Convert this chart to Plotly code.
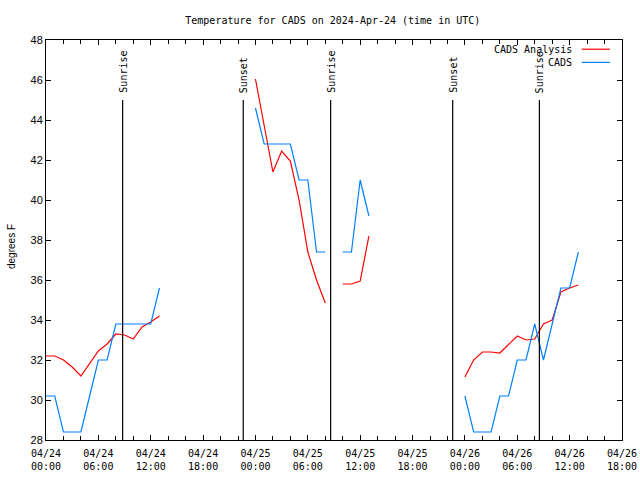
import pandas as pd
import plotly.graph_objects as go

# ---- data ----
base_day = "2024-04-24"
hours = [0, 1, 2, 3, 4, 5, 6, 7, 8, 9, 10, 11, 12, 13, None,
         24, 25, 26, 27, 28, 29, 30, 31, 32, None,
         34, 35, 36, 37, None,
         48, 49, 50, 51, 52, 53, 54, 55, 56, 57, 58, 59, 60, 61]
cads_analysis = [32.2, 32.2, 32.0, 31.65, 31.2, 31.85, 32.45, 32.8, 33.3, 33.25, 33.05, 33.65, 33.9, 34.2, None,
                 46.05, 43.8, 41.4, 42.45, 41.95, 40.0, 37.4, 36.0, 34.85, None,
                 35.8, 35.8, 35.95, 38.2, None,
                 31.15, 32.0, 32.4, 32.4, 32.35, 32.75, 33.2, 33.0, 33.05, 33.8, 34.0, 35.4, 35.6, 35.75]
cads_obs = [30.2, 30.2, 28.4, 28.4, 28.4, 30.2, 32.0, 32.0, 33.8, 33.8, 33.8, 33.8, 33.8, 35.6, None,
            44.6, 42.8, 42.8, 42.8, 42.8, 41.0, 41.0, 37.4, 37.4, None,
            37.4, 37.4, 41.0, 39.2, None,
            30.2, 28.4, 28.4, 28.4, 30.2, 30.2, 32.0, 32.0, 33.8, 32.0, 33.8, 35.6, 35.6, 37.4]
sun_labels = ["Sunrise", "Sunset", "Sunrise", "Sunset", "Sunrise"]
sun_times = ["2024-04-24 08:47", "2024-04-24 22:36", "2024-04-25 08:37",
             "2024-04-25 22:36", "2024-04-26 08:32"]
sun_line_top = 45
tick_hours = [0, 6, 12, 18, 24, 30, 36, 42, 48, 54, 60, 66]
y_range = [28, 48]
title_text = "Temperature for CADS on 2024-Apr-24 (time in UTC)"

base = pd.Timestamp(base_day)
def to_time(h):
    return None if h is None else (base + pd.Timedelta(hours=h)).strftime("%Y-%m-%d %H:%M")

x_times = [to_time(h) for h in hours]
tick_vals = [to_time(h) for h in tick_hours]
tick_text = [(base + pd.Timedelta(hours=h)).strftime("%m/%d<br>%H:%M") for h in tick_hours]

MONO = "DejaVu Sans Mono"
SANS = "Liberation Sans"
RED = "#ff0000"
BLUE = "#0080ff"

fig = go.Figure()
fig.add_trace(go.Scatter(x=x_times, y=cads_analysis, mode="lines", name="CADS Analysis",
                         line=dict(color=RED, width=1.2), showlegend=False))
fig.add_trace(go.Scatter(x=x_times, y=cads_obs, mode="lines", name="CADS",
                         line=dict(color=BLUE, width=1.2), showlegend=False))

for lbl, t in zip(sun_labels, sun_times):
    fig.add_trace(go.Scatter(x=[t, t], y=[y_range[0], sun_line_top], mode="lines",
                             line=dict(color="black", width=1.2), showlegend=False,
                             hoverinfo="skip"))
    fig.add_annotation(x=t, y=sun_line_top, xref="x", yref="y", text=lbl, textangle=-90,
                       showarrow=False, xanchor="center", yanchor="bottom", yshift=5,
                       font=dict(family=MONO, size=10, color="black"))

# legend (gnuplot style: text left of sample)
legend_items = [("CADS Analysis", RED, 0.977), ("CADS", BLUE, 0.944)]
for name, col, yy in legend_items:
    fig.add_annotation(x=0.917, y=yy, xref="paper", yref="paper", text=name, showarrow=False,
                       xanchor="right", yanchor="middle",
                       font=dict(family=MONO, size=10, color="black"))
    fig.add_shape(type="line", xref="paper", yref="paper", x0=0.930, x1=0.979, y0=yy, y1=yy,
                  line=dict(color=col, width=1.2))

# y axis title
fig.add_annotation(x=0, y=0.5, xref="paper", yref="paper", text="degrees F", textangle=-90,
                   showarrow=False, xanchor="center", yanchor="middle", xshift=-35, yshift=-7,
                   font=dict(family=SANS, size=10, color="black"))

fig.update_layout(
    width=640, height=480,
    margin=dict(l=46, r=18, t=40, b=40, autoexpand=False),
    paper_bgcolor="white", plot_bgcolor="white",
    title=dict(text=title_text, x=0.52, xanchor="center", y=0.958, yanchor="middle",
               font=dict(family=MONO, size=10, color="black")),
    showlegend=False,
)
fig.update_xaxes(
    type="date", range=[to_time(0), to_time(66)], automargin=False,
    tickmode="array", tickvals=tick_vals, ticktext=tick_text,
    ticks="inside", ticklen=5, tickcolor="black", showline=True, linecolor="black",
    linewidth=1, mirror="ticks", showgrid=False, zeroline=False, ticklabelstandoff=4,
    tickfont=dict(family=MONO, size=10, color="black"),
    minor=dict(dtick=2 * 3600 * 1000, tick0=to_time(0), ticks="inside", ticklen=4,
               tickcolor="black", showgrid=False),
)
fig.update_yaxes(
    range=y_range, dtick=2, tick0=28, automargin=False,
    ticks="inside", ticklen=5, tickcolor="black", showline=True, linecolor="black",
    linewidth=1, mirror="ticks", showgrid=False, zeroline=False,
    tickfont=dict(family=SANS, size=11, color="black"),
)

fig.write_html("out.html", config={"displayModeBar": False},
               post_script="document.body.style.margin='0';")
